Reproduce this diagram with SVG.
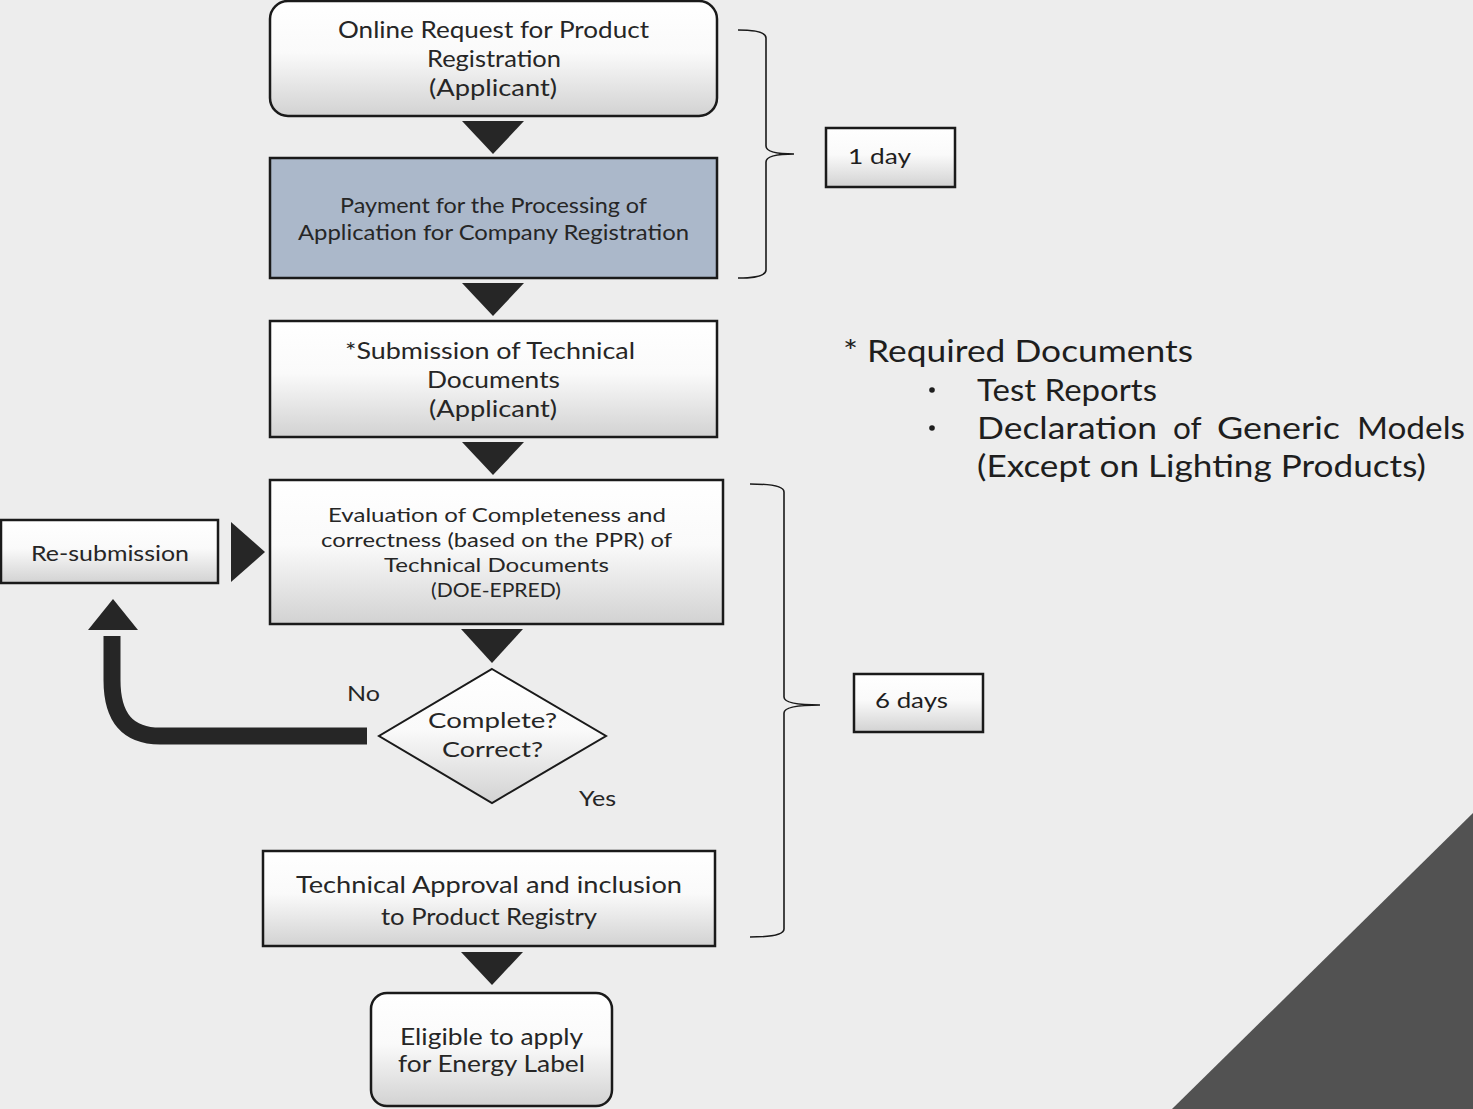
<svg xmlns="http://www.w3.org/2000/svg" width="1473" height="1109" viewBox="0 0 1473 1109">
<defs>
<linearGradient id="g" x1="0" y1="0" x2="0" y2="1">
<stop offset="0" stop-color="#ffffff"/>
<stop offset="0.45" stop-color="#fafafa"/>
<stop offset="1" stop-color="#d2d2d2"/>
</linearGradient>
<style>
.box{fill:url(#g);stroke:#1a1a1a;stroke-width:2.5}
.t{font-family:Lato,"Liberation Sans",sans-serif;fill:#262626;text-anchor:middle}
.l{font-family:Lato,"Liberation Sans",sans-serif;fill:#1e1e1e}
.arr{fill:#262626}
.brace{fill:none;stroke:#1a1a1a;stroke-width:1.6}
</style>
</defs>
<rect width="1473" height="1109" fill="#ededed"/>
<polygon points="1473,813 1473,1109 1172,1109" fill="#525252"/>

<g id="connectors">
<polygon class="arr" points="462,121 524,121 493,154"/>
<polygon class="arr" points="462,283 524,283 493,316"/>
<polygon class="arr" points="462,442 524,442 493,475"/>
<polygon class="arr" points="461,629 523,629 492,663"/>
<polygon class="arr" points="461,952 523,952 492,985"/>
<polygon class="arr" points="231,522 265,552 231,582"/>
<polygon class="arr" points="88,630 138,630 113,599"/>
<path d="M 367 736 H 160 C 128 736 112 718 112 680 V 636" fill="none" stroke="#262626" stroke-width="17"/>
<path class="brace" d="M 738 30 Q 766 30 766 38 V 146 Q 766 154 794 154 Q 766 154 766 162 V 270 Q 766 278 738 278"/>
<path class="brace" d="M 750 484 Q 784 484 784 492 V 697 Q 784 705 820 705 Q 784 705 784 713 V 929 Q 784 937 750 937"/>
</g>

<g id="n1">
<rect class="box" x="270" y="1" width="447" height="115" rx="18"/>
<text class="t" font-size="24" x="493.5" y="38" textLength="311" lengthAdjust="spacingAndGlyphs">Online Request for Product</text>
<text class="t" font-size="24" x="494" y="67" textLength="134" lengthAdjust="spacingAndGlyphs">Registration</text>
<text class="t" font-size="24" x="493" y="96" textLength="128" lengthAdjust="spacingAndGlyphs">(Applicant)</text>
</g>

<g id="n2">
<rect x="270" y="158" width="447" height="120" fill="#abb8ca" stroke="#1a1a1a" stroke-width="2.5"/>
<text class="t" font-size="21" x="493.5" y="213" textLength="307" lengthAdjust="spacingAndGlyphs">Payment for the Processing of</text>
<text class="t" font-size="21" x="493.5" y="240" textLength="391" lengthAdjust="spacingAndGlyphs">Application for Company Registration</text>
</g>

<g id="n3">
<rect class="box" x="270" y="321" width="447" height="116"/>
<text class="t" font-size="23" x="490" y="359" textLength="290" lengthAdjust="spacingAndGlyphs">*Submission of Technical</text>
<text class="t" font-size="23" x="493.5" y="388" textLength="133" lengthAdjust="spacingAndGlyphs">Documents</text>
<text class="t" font-size="23" x="493" y="417" textLength="128" lengthAdjust="spacingAndGlyphs">(Applicant)</text>
</g>

<g id="n4">
<rect class="box" x="270" y="480" width="453" height="144"/>
<text class="t" font-size="20" x="497" y="522" textLength="338" lengthAdjust="spacingAndGlyphs">Evaluation of Completeness and</text>
<text class="t" font-size="20" x="496.5" y="547" textLength="351" lengthAdjust="spacingAndGlyphs">correctness (based on the PPR) of</text>
<text class="t" font-size="20" x="496.5" y="572" textLength="225" lengthAdjust="spacingAndGlyphs">Technical Documents</text>
<text class="t" font-size="20" x="496" y="597" textLength="130" lengthAdjust="spacingAndGlyphs">(DOE-EPRED)</text>
</g>

<g id="resub">
<rect class="box" x="1" y="520" width="217" height="63"/>
<text class="t" font-size="22" x="110" y="561" textLength="158" lengthAdjust="spacingAndGlyphs">Re-submission</text>
</g>

<g id="decision">
<polygon points="492,669 606,736 492,803 379,736" fill="url(#g)" stroke="#1a1a1a" stroke-width="2"/>
<text class="t" font-size="22" x="492.5" y="728" textLength="129" lengthAdjust="spacingAndGlyphs">Complete?</text>
<text class="t" font-size="22" x="492.5" y="757" textLength="101" lengthAdjust="spacingAndGlyphs">Correct?</text>
<text class="t" font-size="21" x="363.5" y="701" textLength="33" lengthAdjust="spacingAndGlyphs">No</text>
<text class="t" font-size="21" x="597.5" y="806" textLength="37" lengthAdjust="spacingAndGlyphs">Yes</text>
</g>

<g id="n5">
<rect class="box" x="263" y="851" width="452" height="95"/>
<text class="t" font-size="24" x="489" y="893" textLength="386" lengthAdjust="spacingAndGlyphs">Technical Approval and inclusion</text>
<text class="t" font-size="24" x="489" y="925" textLength="216" lengthAdjust="spacingAndGlyphs">to Product Registry</text>
</g>

<g id="n6">
<rect class="box" x="371" y="993" width="241" height="113" rx="16"/>
<text class="t" font-size="24" x="491.5" y="1045" textLength="183" lengthAdjust="spacingAndGlyphs">Eligible to apply</text>
<text class="t" font-size="24" x="491.5" y="1072" textLength="187" lengthAdjust="spacingAndGlyphs">for Energy Label</text>
</g>

<g id="d1">
<rect class="box" x="826" y="128" width="129" height="59" stroke-width="3"/>
<text class="l" font-size="22" x="848" y="164" textLength="63" lengthAdjust="spacingAndGlyphs">1 day</text>
</g>

<g id="d6">
<rect class="box" x="854" y="674" width="129" height="58" stroke-width="3"/>
<text class="l" font-size="22" x="875" y="708" textLength="73" lengthAdjust="spacingAndGlyphs">6 days</text>
</g>

<g id="notes">
<text class="l" font-size="30" x="843" y="362" textLength="350" lengthAdjust="spacingAndGlyphs">* Required Documents</text>
<circle cx="932" cy="390" r="2.8" fill="#1e1e1e"/>
<text class="l" font-size="30" x="977" y="401" textLength="180" lengthAdjust="spacingAndGlyphs">Test Reports</text>
<circle cx="932" cy="428" r="2.8" fill="#1e1e1e"/>
<text class="l" font-size="30" y="439"><tspan x="977" textLength="180" lengthAdjust="spacingAndGlyphs">Declaration</tspan> <tspan x="1173" textLength="28" lengthAdjust="spacingAndGlyphs">of</tspan> <tspan x="1217" textLength="123" lengthAdjust="spacingAndGlyphs">Generic</tspan> <tspan x="1357" textLength="108" lengthAdjust="spacingAndGlyphs">Models</tspan></text>
<text class="l" font-size="30" x="977" y="477" textLength="449" lengthAdjust="spacingAndGlyphs">(Except on Lighting Products)</text>
</g>
</svg>
